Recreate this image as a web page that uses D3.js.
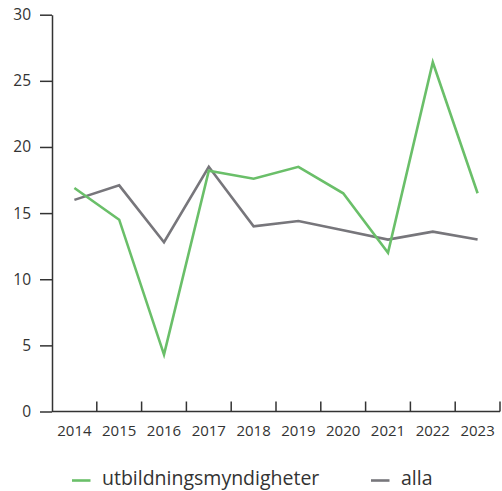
<!DOCTYPE html>
<html>
<head>
<meta charset="utf-8">
<script src="https://cdn.jsdelivr.net/npm/d3@7"></script>
<style>
  html, body { margin: 0; padding: 0; background: #fff; }
  svg { display: block; font-family: "Open Sans", "Noto Sans", sans-serif; }
</style>
</head>
<body>
<svg id="chart" width="502" height="491"></svg>
<script>
// Data
const years = ["2014", "2015", "2016", "2017", "2018", "2019", "2020", "2021", "2022", "2023"];
const utbildning = [16.9, 14.5, 4.3, 18.2, 17.6, 18.5, 16.5, 12.0, 26.4, 16.5];
const alla = [16.0, 17.1, 12.8, 18.5, 14.0, 14.4, 13.7, 13.0, 13.6, 13.0];
const yTicks = [0, 5, 10, 15, 20, 25, 30];
const seriesNames = ["utbildningsmyndigheter", "alla"];
const seriesColors = ["#6abf69", "#77767b"];

const svg = d3.select("#chart");
const plotLeft = 52, plotRight = 500, plotTop = 14.7, plotBottom = 411.5;

const x = d3.scaleBand().domain(years).range([plotLeft, plotRight]).padding(0);
const y = d3.scaleLinear().domain([0, 30]).range([plotBottom, plotTop]);

const axisColor = "#333";
const textColor = "#333";

// Y axis
const yAxis = svg.append("g")
  .attr("transform", `translate(${plotLeft},0)`)
  .call(d3.axisLeft(y).tickValues(yTicks).tickSize(12).tickPadding(9).tickSizeOuter(0));
yAxis.select(".domain").attr("stroke", axisColor).attr("stroke-width", 1.5);
yAxis.selectAll(".tick line").attr("stroke", axisColor).attr("stroke-width", 1.5);
yAxis.selectAll(".tick text").attr("fill", textColor).attr("font-size", 15.5)
  .attr("font-family", "'Open Sans', sans-serif");

// X axis: ticks at band boundaries, pointing up into the plot
const xAxisG = svg.append("g").attr("transform", `translate(0,${plotBottom})`);
xAxisG.append("line")
  .attr("x1", plotLeft).attr("x2", plotRight)
  .attr("stroke", axisColor).attr("stroke-width", 1.5);
const boundaries = years.slice(1).map(d => x(d)).concat([x(years[years.length - 1]) + x.bandwidth()]);
xAxisG.selectAll("line.tick").data(boundaries).enter().append("line")
  .attr("class", "tick")
  .attr("x1", d => d).attr("x2", d => d)
  .attr("y1", 0).attr("y2", -10)
  .attr("stroke", axisColor).attr("stroke-width", 1.5);
xAxisG.selectAll("text").data(years).enter().append("text")
  .attr("x", d => x(d) + x.bandwidth() / 2)
  .attr("y", 24)
  .attr("text-anchor", "middle")
  .attr("font-size", 15)
  .attr("fill", textColor)
  .text(d => d);

// Lines
const line = d3.line()
  .x((d, i) => x(years[i]) + x.bandwidth() / 2)
  .y(d => y(d));

[[alla, seriesColors[1]], [utbildning, seriesColors[0]]].forEach(([vals, color]) => {
  svg.append("path")
    .datum(vals)
    .attr("fill", "none")
    .attr("stroke", color)
    .attr("stroke-width", 2.6)
    .attr("stroke-linejoin", "miter")
    .attr("d", line);
});

// Legend
const legendItems = [
  { name: seriesNames[0], color: seriesColors[0], x: 72 },
  { name: seriesNames[1], color: seriesColors[1], x: 371 }
];
const lg = svg.append("g").attr("transform", "translate(0,480.5)");
legendItems.forEach(it => {
  lg.append("line")
    .attr("x1", it.x).attr("x2", it.x + 18.5)
    .attr("stroke", it.color).attr("stroke-width", 2.6);
  lg.append("text")
    .attr("x", it.x + 30).attr("y", 4.5)
    .attr("font-size", 19.5)
    .attr("fill", textColor)
    .text(it.name);
});
</script>
</body>
</html>
